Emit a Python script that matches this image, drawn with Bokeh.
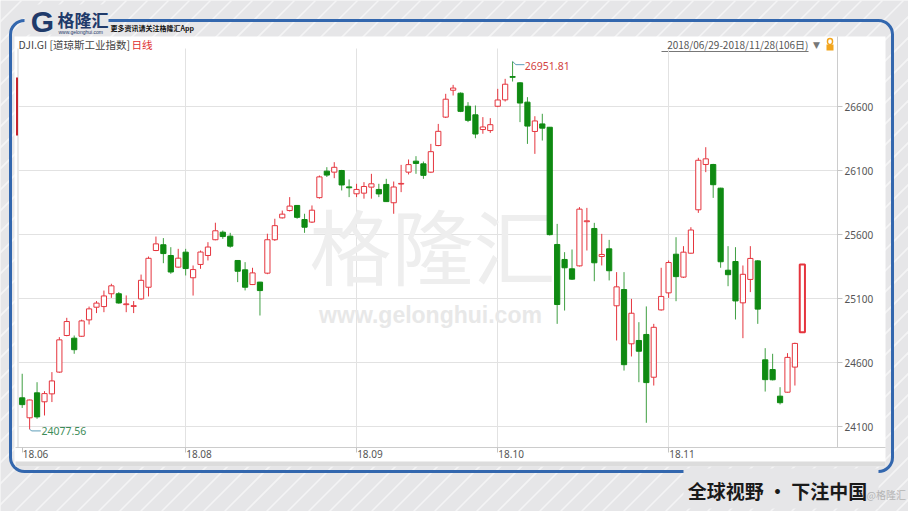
from bokeh.plotting import figure
from bokeh.models import (ColumnDataSource, Range1d, LinearAxis, FixedTicker, Grid,
                          BoxAnnotation, Label, CustomJSTickFormatter)
from bokeh.embed import file_html
from bokeh.resources import INLINE

# ---------------- data ----------------
jun_days = [29]
jul_days = [2, 3, 5, 6, 9, 10, 11, 12, 13, 16, 17, 18, 19, 20, 23, 24, 25, 26, 27, 30, 31]
aug_days = [1, 2, 3, 6, 7, 8, 9, 10, 13, 14, 15, 16, 17, 20, 21, 22, 23, 24, 27, 28, 29, 30, 31]
sep_days = [4, 5, 6, 7, 10, 11, 12, 13, 14, 17, 18, 19, 20, 21, 24, 25, 26, 27, 28]
oct_days = [1, 2, 3, 4, 5, 8, 9, 10, 11, 12, 15, 16, 17, 18, 19, 22, 23, 24, 25, 26, 29, 30, 31]
nov_days = [1, 2, 5, 6, 7, 8, 9, 12, 13, 14, 15, 16, 19, 20, 21, 23, 26, 27, 28]
dates = ([f"2018-06-{d:02d}" for d in jun_days] + [f"2018-07-{d:02d}" for d in jul_days] +
         [f"2018-08-{d:02d}" for d in aug_days] + [f"2018-09-{d:02d}" for d in sep_days] +
         [f"2018-10-{d:02d}" for d in oct_days] + [f"2018-11-{d:02d}" for d in nov_days])

opens = [24324, 24168, 24363, 24293, 24355, 24525, 24811, 24790, 24805, 24933,
         25032, 25037, 25137, 25137, 25052, 25038, 25097, 25188, 25475, 25520,
         25436, 25345, 25462, 25262, 25366, 25436, 25559, 25618, 25587, 25397,
         25324, 25209, 25228, 25298, 25559, 25730, 25787, 25827, 25717, 25697,
         25888, 26095, 26087, 26100, 25972, 25918, 25923, 25970, 25952, 25991,
         25848, 25994, 26087, 26173, 26152, 26087, 26295, 26517, 26727, 26704,
         26602, 26535, 26420, 26412, 26602, 26652, 26834, 26785, 26634, 26405,
         26464, 26438, 25522, 25405, 25332, 25355, 25700, 25647, 25428, 25488,
         25043, 25170, 24746, 24772, 24819, 24485, 25011, 25144, 25446, 25267,
         25454, 25793, 26147, 26147, 25962, 25321, 25389, 25066, 25249, 25394,
         24621, 24545, 24337, 24368, 24564, 24837]
highs = [24512, 24310, 24446, 24376, 24525, 24798, 24949, 24811, 24935, 25037,
         25080, 25162, 25215, 25150, 25124, 25080, 25287, 25428, 25584, 25572,
         25501, 25488, 25488, 25358, 25475, 25540, 25692, 25631, 25613, 25400,
         25384, 25340, 25230, 25606, 25723, 25787, 25892, 25830, 25762, 25827,
         26061, 26126, 26165, 26105, 26030, 25996, 26009, 26074, 25996, 26035,
         26014, 26144, 26186, 26212, 26170, 26308, 26464, 26699, 26769, 26710,
         26634, 26608, 26517, 26509, 26738, 26816, 26951.81, 26790, 26673, 26524,
         26543, 26440, 25683, 25462, 25483, 25814, 25808, 25691, 25605, 25558,
         25306, 25306, 25097, 24915, 25038, 24902, 25340, 25397, 25579, 25509,
         25657, 26199, 26282, 26152, 25965, 25509, 25501, 25358, 25509, 25400,
         24712, 24668, 24407, 24673, 24755, 25370]
lows = [24245, 24077.56, 24160, 24186, 24291, 24520, 24805, 24668, 24800, 24897,
        24986, 24993, 25105, 25059, 24993, 24986, 25090, 25116, 25470, 25376,
        25293, 25340, 25280, 25123, 25332, 25397, 25555, 25566, 25497, 25228,
        25163, 25205, 24967, 25290, 25550, 25725, 25780, 25723, 25613, 25690,
        25880, 26049, 26040, 25944, 25892, 25892, 25880, 25880, 25892, 25855,
        25762, 25931, 26069, 26074, 26035, 26080, 26290, 26510, 26686, 26556,
        26478, 26352, 26387, 26394, 26595, 26639, 26795, 26478, 26308, 26230,
        26334, 25592, 24902, 25006, 25245, 25350, 25475, 25235, 25358, 25241,
        24772, 24537, 24647, 24446, 24129, 24420, 25005, 25105, 25079, 25260,
        25450, 25769, 26087, 25886, 25340, 25196, 24936, 24790, 25150, 24902,
        24373, 24460, 24272, 24365, 24420, 24830]
closes = [24271, 24307, 24175, 24357, 24456, 24777, 24920, 24700, 24925, 25019,
          25064, 25120, 25199, 25065, 25058, 25044, 25242, 25414, 25527, 25451,
          25307, 25415, 25334, 25326, 25463, 25502, 25629, 25584, 25509, 25313,
          25188, 25300, 25162, 25559, 25669, 25759, 25822, 25734, 25657, 25790,
          26050, 26064, 26125, 25987, 25965, 25952, 25975, 25996, 25917, 25857,
          25971, 25999, 26146, 26155, 26062, 26247, 26406, 26657, 26744, 26562,
          26492, 26385, 26440, 26458, 26651, 26774, 26828, 26627, 26447, 26487,
          26431, 25599, 25053, 25340, 25251, 25798, 25707, 25379, 25444, 25317,
          25191, 24583, 24985, 24688, 24443, 24875, 25116, 25381, 25271, 25462,
          25635, 26180, 26191, 25989, 25387, 25286, 25081, 25289, 25413, 25017,
          24466, 24465, 24286, 24640, 24749, 25366]

y_ticks = [24100, 24600, 25100, 25600, 26100, 26600]
month_labels = ["18.06", "18.08", "18.09", "18.10", "18.11"]
month_idx = [0, 22, 45, 64, 87]

# ---------------- styling / layout ----------------
RED = "#e5353e"
GREEN = "#0f8a12"
GREEN_WICK = "#3f9f42"
BG = "#e6e6e8"
BLUE = "#3367ae"
NUM_FONT = "Noto Sans"
CJK_FONT = "Noto Sans CJK SC"
W, H = 908, 511

# chart plot-area edges (page px) and pixel calibration
PLOT_L, PLOT_T, PLOT_R, PLOT_B = 17.5, 48, 837, 447
X0_PX, STEP_PX = 21.7, 7.43
Y_REF_V, Y_REF_PX, PX_PER_UNIT = 26600, 106, 0.128


def xv(px):   # page px -> index units
    return (px - X0_PX) / STEP_PX


def yv(py):   # page px -> value units
    return Y_REF_V - (py - Y_REF_PX) / PX_PER_UNIT


def sx(px):   # page px -> screen units
    return px


def sy(py):
    return H - py


p = figure(width=W, height=H, x_range=Range1d(xv(0), xv(W)), y_range=Range1d(yv(H), yv(0)),
           x_axis_type=None, y_axis_type=None, toolbar_location=None, output_backend="svg",
           min_border=0, border_fill_color=BG, background_fill_color=BG,
           outline_line_color=None)

# faint diagonal stripes of the backdrop (decoration, lowest level)
STRIPE_GAP = 21
stripe_x0 = [xv(k) for k in range(-H, W, STRIPE_GAP)]
stripe_x1 = [xv(k + H) for k in range(-H, W, STRIPE_GAP)]
stripes = p.segment(x0=stripe_x0, y0=[yv(H)] * len(stripe_x0), x1=stripe_x1,
                    y1=[yv(0)] * len(stripe_x0), line_color="white", line_alpha=0.55,
                    line_width=1.6, level="image")


def box(l, r, t, b, **kw):
    args = dict(left=sx(l), right=sx(r), top=sy(t), bottom=sy(b),
                left_units="screen", right_units="screen", top_units="screen",
                bottom_units="screen", level="underlay", line_color=None,
                fill_alpha=1, line_alpha=1)
    args.update(kw)
    bx = BoxAnnotation(**args)
    p.add_layout(bx, "center")
    return bx


box(14, 885, 36, 466, fill_color="white")                        # white panel
box(10, 892, 20, 471, fill_color=None, fill_alpha=0, line_color=BLUE,
    line_width=3, border_radius=14)                              # blue frame
box(24, 108, 4, 34, fill_color=BG)                               # gap for logo
box(683, 878, 468, 508, fill_color=BG)                           # gap for slogan
box(15, 885, 461, 466, fill_color="#dcdcdc")                     # scrollbar
box(PLOT_L - 0.5, PLOT_L + 0.5, PLOT_T, PLOT_B, fill_color="#d2d2d2")
box(15.5, 17.5, 77, 135, fill_color="#c4232c")                   # red marker
box(661, 808, 50.5, 51.5, fill_color="#777777")                  # underline
box(826, 833, 44, 50, fill_color="#f2a51d")                      # lock body
box(827, 832, 38, 44, fill_color=None, fill_alpha=0, line_color="#f2a51d",
    line_width=1.5, border_radius=3)                             # lock shackle

# grids
p.add_layout(Grid(dimension=0, ticker=FixedTicker(ticks=month_idx[1:]),
                  cross_bounds=(yv(PLOT_B), yv(PLOT_T)),
                  grid_line_color="#e2e2e2", grid_line_width=1), "center")
p.add_layout(Grid(dimension=1, ticker=FixedTicker(ticks=y_ticks),
                  cross_bounds=(xv(PLOT_L), xv(PLOT_R)),
                  grid_line_color="#e2e2e2", grid_line_width=1), "center")

# watermark
p.add_layout(Label(x=sx(432), y=sy(243), x_units="screen", y_units="screen", text="格隆汇",
                   text_align="center", text_baseline="middle", text_font=CJK_FONT,
                   text_font_size="82px", text_color="#eeeeee", level="underlay"), "center")
p.add_layout(Label(x=sx(430), y=sy(314), x_units="screen", y_units="screen",
                   text="www.gelonghui.com", text_align="center", text_baseline="middle",
                   text_font="Liberation Sans", text_font_style="bold",
                   text_font_size="23px", text_color="#e8e8e8", level="underlay"), "center")

# ---------------- candles ----------------
n = len(closes)
is_up = [closes[i] >= opens[i] for i in range(n)]
src = ColumnDataSource(dict(
    x=list(range(n)),
    date=dates,
    top=[max(opens[i], closes[i]) for i in range(n)],
    bottom=[min(opens[i], closes[i]) for i in range(n)],
    high=highs, low=lows,
    fill=["white" if u else GREEN for u in is_up],
    line=[RED if u else GREEN for u in is_up],
    wick=[RED if u else GREEN_WICK for u in is_up],
    lw=[2 if i == n - 1 else 1 for i in range(n)],
))
p.segment(x0="x", y0="low", x1="x", y1="high", line_color="wick", line_width=1, source=src)
p.vbar(x="x", width=0.7, top="top", bottom="bottom", fill_color="fill",
       line_color="line", line_width="lw", source=src)

# extreme annotations
hi_i = highs.index(max(highs))
lo_i = lows.index(min(lows))
LEADER = "#5d9db8"
p.line(x=[hi_i, hi_i + 0.45, hi_i + 1.6], y=[highs[hi_i], highs[hi_i] - 25, highs[hi_i] - 25],
       line_color=LEADER, line_width=1)
p.add_layout(Label(x=hi_i + 1.65, y=highs[hi_i] - 32, text=f"{highs[hi_i]:.2f}",
                   text_baseline="middle", text_font=NUM_FONT, text_font_size="10.5px",
                   text_color="#d2433f"))
p.line(x=[lo_i, lo_i + 0.3, lo_i + 1.5], y=[lows[lo_i], lows[lo_i] - 12, lows[lo_i] - 12],
       line_color=LEADER, line_width=1)
p.add_layout(Label(x=lo_i + 1.6, y=lows[lo_i] - 12, text=f"{lows[lo_i]:.2f}",
                   text_baseline="middle", text_font=NUM_FONT, text_font_size="10.5px",
                   text_color="#3d8c58"))

# ---------------- axes (drawn at fixed positions inside the canvas) ----------------
yax = LinearAxis(ticker=FixedTicker(ticks=y_ticks, minor_ticks=[]),
                 fixed_location=xv(PLOT_R), bounds=(yv(PLOT_B), yv(36)),
                 axis_line_color="#cccccc", major_tick_line_color="#c4c4c4",
                 major_tick_out=5, major_tick_in=0, minor_tick_line_color=None,
                 major_label_standoff=2, major_label_text_font=NUM_FONT,
                 major_label_text_font_size="10px", major_label_text_color="#555555")
p.add_layout(yax, "right")

xtick_ax = LinearAxis(ticker=FixedTicker(ticks=month_idx, minor_ticks=[]),
                      fixed_location=yv(PLOT_B), bounds=(xv(15), xv(885)),
                      formatter=CustomJSTickFormatter(code="return ''"),
                      axis_line_color="#cccccc", major_tick_line_color="#c4c4c4",
                      major_tick_out=5, major_tick_in=0, minor_tick_line_color=None,
                      major_label_standoff=0, major_label_text_font_size="1px")
p.add_layout(xtick_ax, "below")

LABEL_SHIFT = 1.8
xlab_ax = LinearAxis(ticker=FixedTicker(ticks=[m + LABEL_SHIFT for m in month_idx], minor_ticks=[]),
                     fixed_location=yv(PLOT_B),
                     formatter=CustomJSTickFormatter(args=dict(labels=month_labels),
                                                     code="return labels[index]"),
                     axis_line_color=None, major_tick_line_color=None, minor_tick_line_color=None,
                     major_tick_out=0, major_tick_in=0, major_label_standoff=2,
                     major_label_text_font=NUM_FONT, major_label_text_font_size="10px",
                     major_label_text_color="#555555")
p.add_layout(xlab_ax, "below")


# ---------------- texts ----------------
def label(px, py, text, **kw):
    args = dict(x=sx(px), y=sy(py), x_units="screen", y_units="screen", text=text,
                text_baseline="middle", text_font=CJK_FONT, text_font_size="10.5px",
                text_color="#444444")
    args.update(kw)
    p.add_layout(Label(**args))


label(18, 44, "DJI.GI [道琼斯工业指数]")
label(131, 44, "日线", text_color="#e0302f")
label(808, 44, "2018/06/29-2018/11/28(106日)", text_align="right", text_font_size="10px",
      text_color="#555555")
label(816, 44, "▼", text_align="center", text_font="DejaVu Sans", text_font_size="9px",
      text_color="#777777")
label(42, 21, "G", text_align="center", text_font="Liberation Sans", text_font_style="bold",
      text_font_size="30px", text_color="#1f3a6a")
label(57, 19, "格隆汇", text_font_style="bold", text_font_size="17px", text_color="#1f3a6a")
label(58, 31.5, "www.gelonghui.com", text_font="Liberation Sans", text_font_size="5px",
      text_color="#1f3a6a")
label(110, 27, "更多资讯请关注格隆汇App", text_font_style="bold", text_font_size="7px",
      text_color="#111111")
label(777, 490, "全球视野 · 下注中国", text_align="center", text_font_style="bold",
      text_font_size="19px", text_color="#1a1a1a")
label(866, 494, "@格隆汇", text_font_size="10px", text_color="#b5b5b5")

open("out.html", "w").write(file_html(p, INLINE))
